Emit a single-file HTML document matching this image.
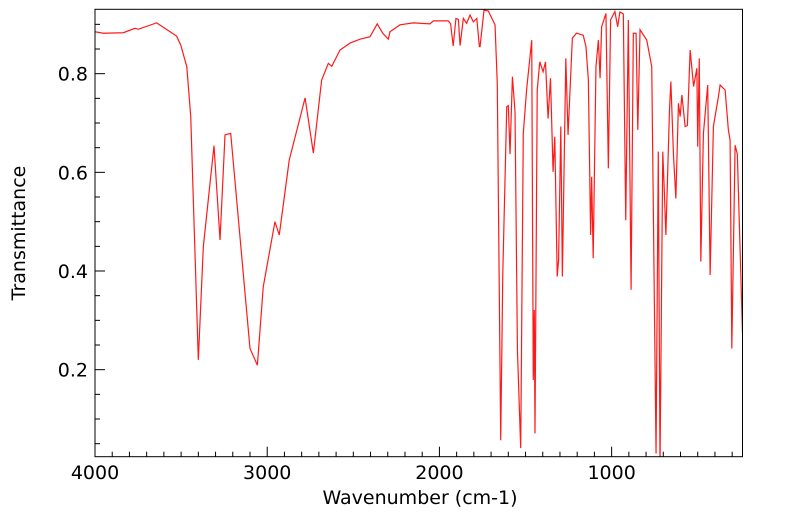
<!DOCTYPE html>
<html><head><meta charset="utf-8"><style>
html,body{margin:0;padding:0;background:#fff;}
svg{display:block;font-family:"DejaVu Sans","Liberation Sans",sans-serif;}
</style></head><body>
<svg id="chart" width="799" height="516" viewBox="0 0 799 516" xmlns="http://www.w3.org/2000/svg">
<defs><clipPath id="plotclip"><rect x="95" y="9.3" width="647.5" height="447.4"/></clipPath></defs>
<g id="grid"></g>
<path id="line" fill="none" stroke="#ff1a1a" stroke-width="1.2" clip-path="url(#plotclip)"/>
<rect x="95" y="9.3" width="647.5" height="447.4" fill="none" stroke="#000" stroke-width="1"/>
<text x="420" y="504" font-size="19" text-anchor="middle">Wavenumber (cm-1)</text>
<text transform="translate(25,233) rotate(-90)" font-size="19" text-anchor="middle">Transmittance</text>
</svg>
<script>
const wavenumbers=[4000,3952,3836,3768,3749,3642,3564,3526,3502,3467,3444,3429,3400,3371,3309,3274,3245,3212,3100,3057,3023,2955,2930,2872,2780,2732,2684,2645,2625,2577,2519,2461,2403,2361,2329,2297,2287,2229,2152,2055,2035,1949,1935,1920,1904,1890,1880,1861,1842,1822,1803,1783,1768,1764,1741,1716,1677,1664,1644,1632,1609,1600,1590,1576,1561,1547,1528,1513,1493,1464,1455,1449,1445,1432,1417,1398,1384,1369,1355,1340,1330,1316,1308,1295,1286,1266,1253,1228,1204,1165,1149,1135,1122,1116,1107,1091,1077,1067,1058,1033,1019,1006,981,965,952,932,918,903,887,874,858,848,835,796,767,742,729,719,703,695,685,664,656,641,627,612,602,592,573,560,544,524,505,500,491,482,467,442,428,409,380,370,341,322,312,302,283,270,240];
const transmittance=[0.885,0.882,0.883,0.892,0.890,0.903,0.885,0.876,0.858,0.814,0.713,0.544,0.220,0.449,0.654,0.463,0.676,0.679,0.243,0.209,0.368,0.500,0.473,0.625,0.751,0.639,0.787,0.821,0.815,0.848,0.862,0.870,0.875,0.901,0.882,0.870,0.885,0.899,0.903,0.901,0.907,0.907,0.901,0.856,0.912,0.910,0.857,0.912,0.902,0.919,0.905,0.912,0.855,0.855,0.929,0.927,0.899,0.780,0.057,0.395,0.733,0.735,0.637,0.794,0.723,0.240,0.041,0.679,0.770,0.868,0.179,0.321,0.071,0.767,0.824,0.804,0.824,0.709,0.791,0.601,0.672,0.389,0.422,0.693,0.389,0.831,0.676,0.872,0.882,0.878,0.855,0.787,0.473,0.591,0.426,0.814,0.868,0.791,0.895,0.922,0.608,0.909,0.926,0.895,0.925,0.921,0.503,0.909,0.362,0.882,0.882,0.686,0.889,0.868,0.814,0.030,0.642,0.005,0.642,0.571,0.473,0.726,0.784,0.637,0.547,0.740,0.713,0.757,0.693,0.695,0.848,0.774,0.811,0.652,0.831,0.419,0.679,0.777,0.392,0.693,0.753,0.777,0.767,0.686,0.665,0.243,0.655,0.637,0.274];
const yTickLabels=["0.2","0.4","0.6","0.8"];
const xTickLabels=["4000","3000","2000","1000"];

const X0=95,X1=742.5,YT=9.3,YB=456.7,XMAX=4000,XMIN=240,YMIN=0.0236,YMAX=0.9305;
function xs(w){return X0+(XMAX-w)/(XMAX-XMIN)*(X1-X0);}
function ys(t){return YB-(t-YMIN)/(YMAX-YMIN)*(YB-YT);}
const NS="http://www.w3.org/2000/svg";
const g=document.getElementById('grid');
function mk(tag,attrs){const e=document.createElementNS(NS,tag);for(const k in attrs)e.setAttribute(k,attrs[k]);g.appendChild(e);return e;}
for(let w=4000;w>=XMIN;w-=100){
  const major=w%1000===0;const x=xs(w);
  const t=mk('line',{x1:x,x2:x,y1:YB,y2:YB-(major?10:5),stroke:'#000','stroke-width':1});
  
  
}
xTickLabels.forEach(s=>{
  const t=mk('text',{x:xs(parseFloat(s)),y:479,'font-size':19,'text-anchor':'middle'});
  t.textContent=s;
  
  
});
for(let i=1;i*0.05<=YMAX;i++){
  const v=i*0.05;const major=i%4===0;const y=ys(v);
  const t=mk('line',{x1:X0,x2:X0+(major?10:5),y1:y,y2:y,stroke:'#000','stroke-width':1});
  
  
}
yTickLabels.forEach(s=>{
  const t=mk('text',{x:88,y:ys(parseFloat(s))+7,'font-size':19,'text-anchor':'end'});
  t.textContent=s;
  
  
});
let d='';
wavenumbers.forEach((w,i)=>{d+=(i?'L':'M')+xs(w).toFixed(2)+','+ys(transmittance[i]).toFixed(2);});
document.getElementById('line').setAttribute('d',d);
</script>
</body></html>
